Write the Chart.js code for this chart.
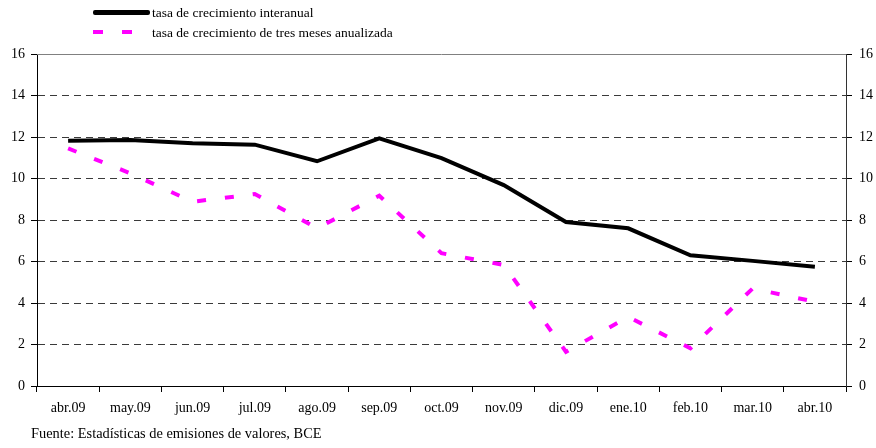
<!DOCTYPE html>
<html>
<head>
<meta charset="utf-8">
<script src="https://cdn.jsdelivr.net/npm/chart.js@4/dist/chart.umd.min.js"></script>
<style>
    body { margin: 0; background: #fff; }
    #wrap { position: relative; width: 876px; height: 448px; font-family: 'Liberation Serif', 'Times New Roman', serif; color: #000; }
    #myChart { position: absolute; left: 0; top: 0; }
    .leg { position: absolute; left: 152px; font-size: 13.5px; line-height: 16px; white-space: nowrap; }
    .sw { position: absolute; height: 4px; }
    #fuente { position: absolute; left: 31px; top: 425px; font-size: 14.4px; white-space: nowrap; }
</style>
</head>
<body>
<div id="wrap">
    <canvas id="myChart" width="876" height="448"></canvas>
    <!-- leyenda -->
    <div class="sw" style="left:93px;top:10px;width:57px;height:5px;background:#000;border-radius:2px"></div>
    <div class="leg" style="top:5px">tasa de crecimiento interanual</div>
    <div class="sw" style="left:93px;top:30px;width:10px;background:#ff00ff"></div>
    <div class="sw" style="left:122px;top:30px;width:10px;background:#ff00ff"></div>
    <div class="leg" style="top:25px">tasa de crecimiento de tres meses anualizada</div>
    <div id="fuente">Fuente: Estadísticas de emisiones de valores, BCE</div>
</div>
<script>
// datos
const meses = ['abr.09', 'may.09', 'jun.09', 'jul.09', 'ago.09', 'sep.09', 'oct.09',
    'nov.09', 'dic.09', 'ene.10', 'feb.10', 'mar.10', 'abr.10']
const interanual = [11.82, 11.86, 11.7, 11.63, 10.83, 11.93, 10.98, 9.68, 7.9, 7.6, 6.3, 6.03, 5.75]
const tresMeses = [11.45, 10.25, 8.88, 9.25, 7.6, 9.17, 6.4, 5.83, 1.65, 3.33, 1.82, 4.7, 4.06]
const yTicks = [0, 2, 4, 6, 8, 10, 12, 14, 16]

const font = { family: "'Liberation Serif', 'Times New Roman', serif", size: 14 }

// borde superior gris (el grid en 16 no se dibuja)
const topBorder = {
    id: 'topBorder',
    afterDraw(chart) {
        const { ctx, chartArea } = chart
        ctx.save()
        ctx.strokeStyle = '#808080'
        ctx.lineWidth = 1
        ctx.beginPath()
        ctx.moveTo(chartArea.left, chartArea.top + 0.5)
        ctx.lineTo(chartArea.right, chartArea.top + 0.5)
        ctx.stroke()
        ctx.restore()
    },
}

const ctx = document.getElementById('myChart').getContext('2d')
const myChart = new Chart(ctx, {
    type: 'line',
    data: {
        labels: meses,
        datasets: [
            {
                label: 'tasa de crecimiento interanual',
                data: interanual,
                borderColor: '#000',
                borderWidth: 4,
                pointRadius: 0,
                tension: 0,
                yAxisID: 'y',
                order: 1,
            },
            {
                label: 'tasa de crecimiento de tres meses anualizada',
                data: tresMeses,
                borderColor: '#ff00ff',
                borderWidth: 4,
                borderDash: [9, 19],
                borderCapStyle: 'butt',
                pointRadius: 0,
                tension: 0,
                yAxisID: 'y',
                order: 2,
            },
        ],
    },
    options: {
        responsive: false,
        animation: false,
        layout: { padding: { top: 54, left: 0, right: 0, bottom: 0 } },
        plugins: {
            legend: { display: false },
            tooltip: { enabled: false },
        },
        scales: {
            x: {
                offset: true,
                grid: {
                    offset: true,
                    drawOnChartArea: false,
                    drawTicks: true,
                    tickLength: 6,
                    tickColor: '#000',
                },
                border: { color: '#000', width: 1 },
                ticks: { color: '#000', font: font, padding: 8, maxRotation: 0, autoSkip: false },
                afterFit(scale) { scale.height = 62 },
            },
            y: {
                position: 'left',
                min: 0,
                max: 16,
                afterBuildTicks(scale) { scale.ticks = yTicks.map(v => ({ value: v })) },
                grid: {
                    color: c => (c.tick && (c.tick.value === 0 || c.tick.value === 16) ? 'rgba(0,0,0,0)' : '#3a3a3a'),
                    tickColor: '#000',
                    tickLength: 6,
                    tickBorderDash: [],
                },
                border: { color: '#000', width: 1, dash: [7, 5] },
                ticks: { color: '#000', font: font, padding: 6 },
                afterFit(scale) { scale.width = 37 },
            },
            y2: {
                position: 'right',
                min: 0,
                max: 16,
                afterBuildTicks(scale) { scale.ticks = yTicks.map(v => ({ value: v })) },
                grid: { drawOnChartArea: false, tickColor: '#000', tickLength: 6 },
                border: { color: '#333', width: 1 },
                ticks: { color: '#000', font: font, padding: 7 },
                afterFit(scale) { scale.width = 30 },
            },
        },
    },
    plugins: [topBorder],
})
</script>
</body>
</html>
